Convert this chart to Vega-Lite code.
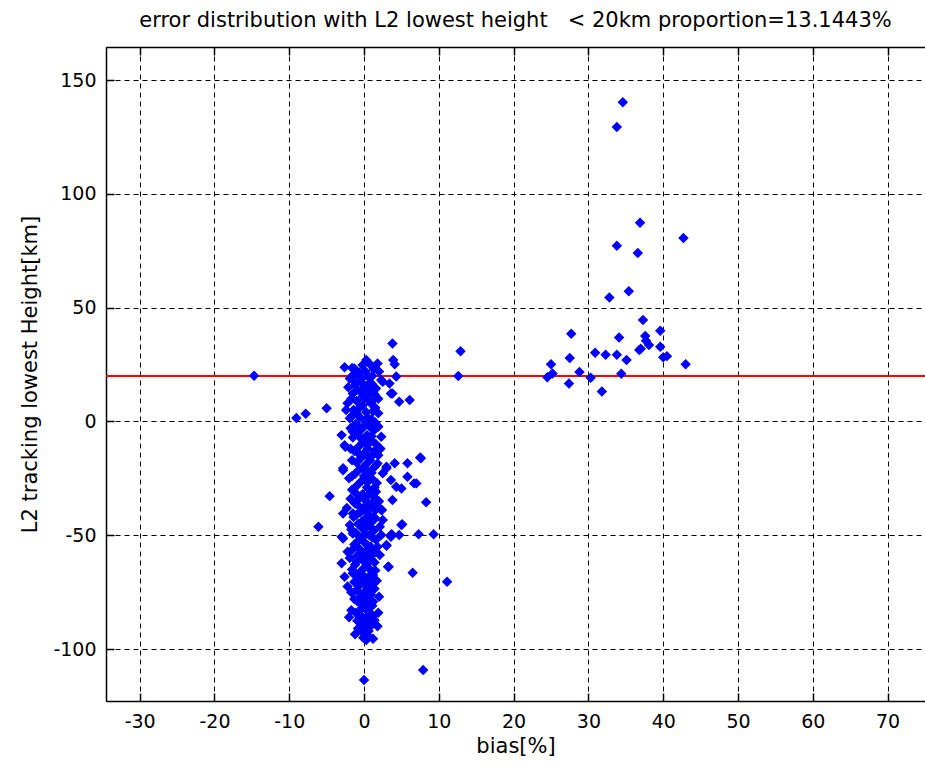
{
  "$schema": "https://vega.github.io/schema/vega-lite/v6.json",
  "autosize": {"type": "none"},
  "padding": {"left": 106, "top": 47, "right": 0, "bottom": 72},
  "width": 819,
  "height": 654,
  "background": "white",
  "config": {
    "view": {"stroke": "black", "strokeWidth": 1},
    "font": "DejaVu Sans"
  },
  "title": {
    "text": "error distribution with L2 lowest height \u00a0\u00a0< 20km proportion=13.1443%",
    "font": "DejaVu Sans",
    "fontSize": 21,
    "fontWeight": "normal",
    "color": "black",
    "offset": 15,
    "anchor": "middle"
  },
  "resolve": {"axis": {"x": "independent"}},
  "datasets": {
    "pts": [
      {"bias": -14.7, "h": 20.1}, {"bias": -9.05, "h": 1.5}, {"bias": -7.8, "h": 3.4}, {"bias": -5.0, "h": 5.8},
      {"bias": -4.6, "h": -32.8}, {"bias": -6.1, "h": -46.3}, {"bias": -3.0, "h": -6.0}, {"bias": -2.5, "h": -11.1},
      {"bias": 34.6, "h": 140.2}, {"bias": 33.8, "h": 129.4}, {"bias": 36.9, "h": 87.3}, {"bias": 42.7, "h": 80.6},
      {"bias": 33.8, "h": 77.2}, {"bias": 36.6, "h": 74.0}, {"bias": 35.4, "h": 57.2}, {"bias": 32.8, "h": 54.5},
      {"bias": 37.3, "h": 44.6}, {"bias": 39.6, "h": 39.9}, {"bias": 27.7, "h": 38.5}, {"bias": 34.1, "h": 36.9},
      {"bias": 37.6, "h": 37.5}, {"bias": 37.7, "h": 35.5}, {"bias": 38.1, "h": 33.6}, {"bias": 37.0, "h": 31.9},
      {"bias": 36.8, "h": 31.4}, {"bias": 39.6, "h": 32.8}, {"bias": 40.0, "h": 28.2}, {"bias": 40.5, "h": 28.7},
      {"bias": 30.9, "h": 30.2}, {"bias": 32.3, "h": 29.3}, {"bias": 33.8, "h": 29.3}, {"bias": 35.1, "h": 27.0},
      {"bias": 27.5, "h": 27.9}, {"bias": 25.0, "h": 25.1}, {"bias": 43.0, "h": 25.1}, {"bias": 25.2, "h": 21.1},
      {"bias": 28.8, "h": 21.7}, {"bias": 24.5, "h": 19.4}, {"bias": 34.4, "h": 21.0}, {"bias": 27.4, "h": 16.7},
      {"bias": 30.3, "h": 19.2}, {"bias": 31.8, "h": 13.2},
      {"bias": 12.9, "h": 30.8}, {"bias": 12.6, "h": 20.0}, {"bias": 11.1, "h": -70.4}, {"bias": 7.9, "h": -109.2},
      {"bias": 0.0, "h": -113.6}, {"bias": 7.3, "h": -49.5}, {"bias": 9.3, "h": -49.5}, {"bias": 6.5, "h": -66.5},
      {"bias": 8.3, "h": -35.5}, {"bias": 3.3, "h": -63.8}, {"bias": 5.0, "h": -45.5}, {"bias": 3.7, "h": -49.5},
      {"bias": 3.0, "h": -54.6},
      {"bias": 3.8, "h": 34.3}, {"bias": 3.9, "h": 27.0}, {"bias": 4.1, "h": 25.1}, {"bias": -2.6, "h": 23.8},
      {"bias": 4.3, "h": 19.7}, {"bias": 6.1, "h": 9.4}, {"bias": 4.7, "h": 8.7}, {"bias": 3.8, "h": 12.3},
      {"bias": 2.5, "h": 17.4}, {"bias": 1.7, "h": -1.6}, {"bias": 2.3, "h": -6.7}, {"bias": 7.5, "h": -15.8},
      {"bias": 5.8, "h": -18.4}, {"bias": 4.1, "h": -18.4}, {"bias": 3.0, "h": -19.9}, {"bias": 5.8, "h": -24.3},
      {"bias": 7.0, "h": -27.2}, {"bias": 4.3, "h": -28.7}, {"bias": 5.0, "h": -29.4}, {"bias": -2.8, "h": -20.6},
      {"bias": 3.8, "h": -34.5}, {"bias": 1.6, "h": -30.9}, {"bias": -2.8, "h": -40.4}, {"bias": 2.4, "h": -38.9},
      {"bias": 5.1, "h": -45.2},
      {"bias": 0.3, "h": 27.0}, {"bias": -1.3, "h": 23.3}, {"bias": 1.8, "h": 25.5}, {"bias": 0.7, "h": 25.5},
      {"bias": -0.2, "h": 24.8}, {"bias": -1.9, "h": 18.9}, {"bias": 2.3, "h": 18.2}, {"bias": 3.4, "h": 16.7},
      {"bias": -0.4, "h": 17.4}, {"bias": 0.1, "h": 15.2}, {"bias": 1.0, "h": 16.7}, {"bias": 3.6, "h": 12.3},
      {"bias": -1.5, "h": 12.3}, {"bias": -2.2, "h": 8.0}, {"bias": -0.2, "h": 10.9}, {"bias": 1.0, "h": 8.7},
      {"bias": -2.4, "h": 5.0}, {"bias": 1.9, "h": 3.6}, {"bias": -1.0, "h": 3.6}, {"bias": -1.9, "h": 1.4},
      {"bias": -1.0, "h": -5.2}, {"bias": 1.9, "h": -2.3}, {"bias": -2.6, "h": -10.4}, {"bias": 0.1, "h": -8.2},
      {"bias": 1.9, "h": -14.8}, {"bias": 7.6, "h": -16.2}, {"bias": 3.0, "h": -20.6}, {"bias": -2.8, "h": -21.4},
      {"bias": 3.6, "h": -25.7}, {"bias": 2.5, "h": -22.8}, {"bias": 6.7, "h": -27.2}, {"bias": 1.0, "h": -31.6},
      {"bias": 1.9, "h": -37.5}, {"bias": 2.3, "h": -38.9}, {"bias": -1.5, "h": -40.4}, {"bias": 1.2, "h": -41.9},
      {"bias": 2.5, "h": -43.3}, {"bias": -1.9, "h": -45.5}, {"bias": 2.1, "h": -46.3}, {"bias": 3.6, "h": -49.9},
      {"bias": 4.7, "h": -49.9}, {"bias": -3.0, "h": -50.7}, {"bias": -1.5, "h": -49.2}, {"bias": -2.8, "h": -51.4},
      {"bias": 2.3, "h": -49.9}, {"bias": 3.6, "h": -50.7}, {"bias": -2.2, "h": -57.2}, {"bias": 3.0, "h": -54.3},
      {"bias": 2.1, "h": -58.7}, {"bias": -3.0, "h": -62.3}, {"bias": 3.2, "h": -63.8}, {"bias": -2.6, "h": -68.2},
      {"bias": -1.5, "h": -66.7}, {"bias": 1.2, "h": -67.5}, {"bias": -1.0, "h": -71.1}, {"bias": 1.0, "h": -74.1},
      {"bias": -0.2, "h": -77.0}, {"bias": 1.2, "h": -79.2}, {"bias": -1.7, "h": -82.9}, {"bias": 0.7, "h": -81.4},
      {"bias": -0.6, "h": -85.8}, {"bias": 1.4, "h": -87.3}, {"bias": -0.8, "h": -90.9}, {"bias": 0.3, "h": -92.4},
      {"bias": 0.1, "h": -94.6}, {"bias": 0.5, "h": -89.5}, {"bias": -0.2, "h": -88.0},
      {"bias": 0.2, "h": 22}, {"bias": -0.9, "h": 21}, {"bias": 1.1, "h": 20}, {"bias": -0.3, "h": 19},
      {"bias": 0.8, "h": 17}, {"bias": -1.2, "h": 16}, {"bias": 0.4, "h": 14}, {"bias": -0.5, "h": 13},
      {"bias": 1.4, "h": 12}, {"bias": 0.0, "h": 11}, {"bias": -1.0, "h": 9}, {"bias": 0.9, "h": 8},
      {"bias": -0.2, "h": 7}, {"bias": 1.5, "h": 6}, {"bias": -1.4, "h": 5}, {"bias": 0.3, "h": 4},
      {"bias": -0.6, "h": 2}, {"bias": 1.0, "h": 1}, {"bias": 0.1, "h": 0}, {"bias": -1.1, "h": -1},
      {"bias": 0.7, "h": -2}, {"bias": -0.2, "h": -3}, {"bias": 1.3, "h": -4}, {"bias": -0.8, "h": -5},
      {"bias": 0.4, "h": -6}, {"bias": -1.5, "h": -7}, {"bias": 0.9, "h": -8}, {"bias": -0.1, "h": -9},
      {"bias": 1.6, "h": -10}, {"bias": -0.7, "h": -11}, {"bias": 0.5, "h": -12}, {"bias": -1.3, "h": -13},
      {"bias": 0.0, "h": -14}, {"bias": 1.1, "h": -15}, {"bias": -0.4, "h": -16}, {"bias": 0.8, "h": -17},
      {"bias": -1.0, "h": -18}, {"bias": 0.2, "h": -19}, {"bias": 1.4, "h": -20}, {"bias": -0.6, "h": -21},
      {"bias": 0.6, "h": -22}, {"bias": -1.2, "h": -23}, {"bias": 0.0, "h": -24}, {"bias": 1.0, "h": -25},
      {"bias": -0.3, "h": -26}, {"bias": 1.7, "h": -27}, {"bias": -0.9, "h": -28}, {"bias": 0.4, "h": -29},
      {"bias": -1.6, "h": -30}, {"bias": 0.9, "h": -31}, {"bias": -0.2, "h": -32}, {"bias": 1.3, "h": -33},
      {"bias": -0.7, "h": -34}, {"bias": 0.3, "h": -35}, {"bias": -1.2, "h": -36}, {"bias": 0.8, "h": -37},
      {"bias": -0.1, "h": -38}, {"bias": 1.5, "h": -39}, {"bias": -0.5, "h": -40}, {"bias": 0.6, "h": -41},
      {"bias": -1.4, "h": -42}, {"bias": 0.1, "h": -43}, {"bias": 1.1, "h": -44}, {"bias": -0.8, "h": -45},
      {"bias": 0.4, "h": -46}, {"bias": -0.2, "h": -47}, {"bias": 1.3, "h": -48}, {"bias": -1.1, "h": -49},
      {"bias": 0.7, "h": -50}, {"bias": -0.4, "h": -51}, {"bias": 1.6, "h": -52}, {"bias": 0.0, "h": -53},
      {"bias": -1.3, "h": -54}, {"bias": 0.9, "h": -55}, {"bias": -0.6, "h": -56}, {"bias": 0.3, "h": -57},
      {"bias": 1.2, "h": -58}, {"bias": -0.9, "h": -59}, {"bias": 0.5, "h": -60}, {"bias": -0.2, "h": -61},
      {"bias": 1.4, "h": -62}, {"bias": -1.2, "h": -63}, {"bias": 0.1, "h": -64}, {"bias": 0.8, "h": -65},
      {"bias": -0.5, "h": -66}, {"bias": 1.0, "h": -67}, {"bias": -0.8, "h": -68}, {"bias": 0.3, "h": -69},
      {"bias": -0.1, "h": -70}, {"bias": 1.2, "h": -71}, {"bias": -0.6, "h": -72}, {"bias": 0.5, "h": -73},
      {"bias": -1.0, "h": -74}, {"bias": 0.0, "h": -75}, {"bias": 0.9, "h": -76}, {"bias": -0.4, "h": -77},
      {"bias": 0.6, "h": -78}, {"bias": -0.9, "h": -79}, {"bias": 0.2, "h": -80}, {"bias": 1.1, "h": -81},
      {"bias": -0.3, "h": -82}, {"bias": 0.4, "h": -83}, {"bias": -1.1, "h": -84}, {"bias": 0.8, "h": -85},
      {"bias": -0.2, "h": -86}, {"bias": 0.5, "h": -87}, {"bias": -0.6, "h": -88}, {"bias": 0.9, "h": -89},
      {"bias": 0.0, "h": -90}, {"bias": -0.4, "h": -91}, {"bias": 0.6, "h": -92}, {"bias": 0.2, "h": -93},
      {"bias": -0.1, "h": -95}, {"bias": 0.3, "h": -96},
      {"bias": -1.8, "h": -3}, {"bias": 1.9, "h": 10}, {"bias": -2.0, "h": -25}, {"bias": 2.0, "h": -35},
      {"bias": -1.9, "h": -60}, {"bias": 1.8, "h": -55}, {"bias": -2.1, "h": 15}, {"bias": 2.2, "h": -12},
      {"bias": -1.7, "h": -75}, {"bias": 1.7, "h": -70}, {"bias": -2.3, "h": -38}, {"bias": 1.9, "h": -84},
      {"bias": -1.6, "h": 20}, {"bias": 2.0, "h": 22},
      {"bias": -1.6, "h": 23.5}, {"bias": 1.3, "h": 23}, {"bias": -0.6, "h": 21.5}, {"bias": 0.6, "h": 19.5},
      {"bias": -1.4, "h": 18}, {"bias": 1.6, "h": 14.5}, {"bias": -0.9, "h": 14}, {"bias": 0.9, "h": 12.5},
      {"bias": -1.7, "h": 10}, {"bias": 0.5, "h": 9.5}, {"bias": -0.6, "h": 6}, {"bias": 1.2, "h": 4.5},
      {"bias": -1.6, "h": 2.5}, {"bias": 0.5, "h": 1.5}, {"bias": 1.5, "h": -0.5}, {"bias": -0.6, "h": -2.5},
      {"bias": -1.5, "h": -4.5}, {"bias": 1.0, "h": -6.5}, {"bias": -0.4, "h": -7.5}, {"bias": 0.4, "h": -10.5},
      {"bias": -1.8, "h": -12}, {"bias": 1.4, "h": -13}, {"bias": -0.6, "h": -14.5}, {"bias": 0.6, "h": -15.5},
      {"bias": -1.6, "h": -17}, {"bias": 1.8, "h": -18.5}, {"bias": -0.2, "h": -20.5}, {"bias": 1.0, "h": -22.5},
      {"bias": -1.6, "h": -24}, {"bias": 0.5, "h": -26.5}, {"bias": 1.4, "h": -29}, {"bias": -1.1, "h": -31.5},
      {"bias": 0.2, "h": -33.5}, {"bias": -1.8, "h": -34}, {"bias": 1.0, "h": -36}, {"bias": -0.6, "h": -37.5},
      {"bias": 0.3, "h": -39.5}, {"bias": -1.0, "h": -41}, {"bias": 1.5, "h": -42.5}, {"bias": -0.3, "h": -44},
      {"bias": 0.9, "h": -46.5}, {"bias": -1.7, "h": -47.5}, {"bias": 0.2, "h": -49.5}, {"bias": 1.1, "h": -51},
      {"bias": -0.8, "h": -52.5}, {"bias": 0.5, "h": -54.5}, {"bias": -1.6, "h": -56.5}, {"bias": 1.5, "h": -57.5},
      {"bias": -0.3, "h": -58.5}, {"bias": 0.9, "h": -60.5}, {"bias": -1.0, "h": -61.5}, {"bias": 0.4, "h": -62.5},
      {"bias": -1.6, "h": -65}, {"bias": 1.5, "h": -65.5}, {"bias": -0.2, "h": -67.5}, {"bias": 0.8, "h": -69.5},
      {"bias": -1.3, "h": -70.5}, {"bias": 0.3, "h": -72}, {"bias": 1.4, "h": -73.5}, {"bias": -0.6, "h": -75.5},
      {"bias": 0.6, "h": -76.5}, {"bias": -1.3, "h": -78}, {"bias": 1.0, "h": -79}, {"bias": -0.2, "h": -80.5},
      {"bias": 0.6, "h": -83.5}, {"bias": -0.8, "h": -84.5}, {"bias": 1.2, "h": -85.5}, {"bias": 0.2, "h": -86.5},
      {"bias": -0.9, "h": -87.5}, {"bias": 0.7, "h": -90.5}, {"bias": -0.2, "h": -92.5}, {"bias": 0.5, "h": -94},
      {"bias": -2.2, "h": -72.5}, {"bias": 2.0, "h": -77}, {"bias": -2.0, "h": -86}, {"bias": 1.8, "h": -90},
      {"bias": -1.2, "h": -93.5}, {"bias": 1.2, "h": -95.5}
    ],
    "ref": [{"h": 20}]
  },
  "layer": [
    {
      "data": {"name": "ref"},
      "mark": {"type": "rule", "color": "#ff0000", "strokeWidth": 2},
      "encoding": {
        "y": {"field": "h", "type": "quantitative", "scale": {"domain": [-122.8, 164.5], "nice": false, "zero": false}}
      }
    },
    {
      "data": {"name": "pts"},
      "mark": {"type": "point", "shape": "diamond", "filled": true, "color": "#0000ff", "opacity": 0, "size": 1},
      "encoding": {
        "x": {
          "field": "bias", "type": "quantitative",
          "scale": {"domain": [-34.5, 75], "nice": false, "zero": false},
          "axis": {
            "orient": "top", "title": null, "labels": false, "grid": false,
            "values": [-30, -20, -10, 0, 10, 20, 30, 40, 50, 60, 70],
            "domainColor": "black", "domainWidth": 1.5, "tickColor": "black", "tickSize": -8, "tickWidth": 1.5
          }
        },
        "y": {"field": "h", "type": "quantitative", "scale": {"domain": [-122.8, 164.5], "nice": false, "zero": false}}
      }
    },
    {
      "data": {"name": "pts"},
      "mark": {"type": "point", "shape": "diamond", "filled": true, "color": "#0000ff", "opacity": 1, "size": 110},
      "encoding": {
        "x": {
          "field": "bias", "type": "quantitative",
          "scale": {"domain": [-34.5, 75], "nice": false, "zero": false},
          "axis": {
            "title": "bias[%]", "values": [-30, -20, -10, 0, 10, 20, 30, 40, 50, 60, 70],
            "labelExpr": "toString(datum.value)",
            "grid": true, "gridColor": "black", "gridDash": [5, 4], "gridOpacity": 1, "gridWidth": 1,
            "domainColor": "black", "domainWidth": 1.5, "tickColor": "black", "tickSize": -8, "tickWidth": 1.5,
            "labelFont": "DejaVu Sans", "labelFontSize": 19, "labelColor": "black", "labelPadding": 19,
            "titleFont": "DejaVu Sans", "titleFontSize": 21, "titleFontWeight": "normal", "titleColor": "black", "titlePadding": 4
          }
        },
        "y": {
          "field": "h", "type": "quantitative",
          "scale": {"domain": [-122.8, 164.5], "nice": false, "zero": false},
          "axis": {
            "title": "L2 tracking lowest Height[km]", "values": [-100, -50, 0, 50, 100, 150],
            "labelExpr": "toString(datum.value)",
            "grid": true, "gridColor": "black", "gridDash": [5, 4], "gridOpacity": 1, "gridWidth": 1,
            "domainColor": "black", "domainWidth": 1.5, "tickColor": "black", "tickSize": -8, "tickWidth": 1.5,
            "labelFont": "DejaVu Sans", "labelFontSize": 19, "labelColor": "black", "labelPadding": 18,
            "titleFont": "DejaVu Sans", "titleFontSize": 21, "titleFontWeight": "normal", "titleColor": "black", "titlePadding": 12
          }
        }
      }
    }
  ]
}
